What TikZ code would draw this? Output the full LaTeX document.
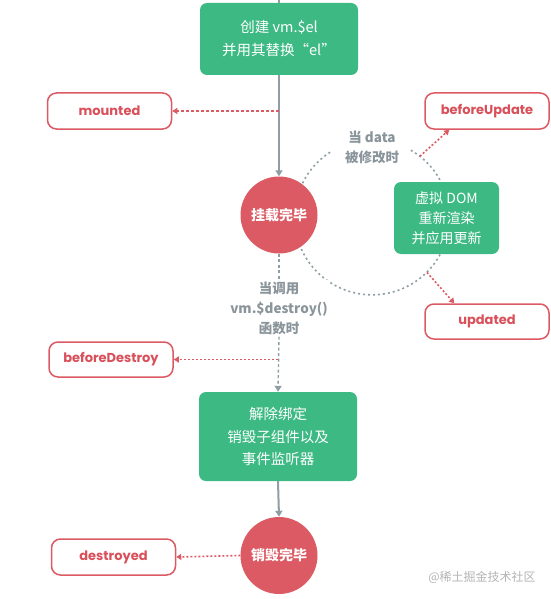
\documentclass[tikz,border=0pt]{standalone}
\usepackage{fontspec}
\setmainfont{Noto Sans CJK SC}
\newfontfamily\lblfont{Poppins}
\usetikzlibrary{arrows.meta,calc}
\definecolor{vgreen}{HTML}{3DBA84}
\definecolor{vred}{HTML}{DC5A64}
\definecolor{vredtxt}{HTML}{D9505A}
\definecolor{vgray}{HTML}{8E9EA4}
\definecolor{vtxtgray}{HTML}{8A959B}
\definecolor{wm}{HTML}{B4B4B4}
\tikzset{
  greenbox/.style={draw=none, fill=vgreen, rounded corners=7pt, text=white,
    align=center, font=\fontsize{14.5}{23}\selectfont, inner sep=0pt},
  hookbox/.style={draw=vred, line width=1.5pt, fill=white, rounded corners=9pt,
    text=vredtxt, font=\lblfont\bfseries\fontsize{13}{15}\selectfont,
    minimum width=124pt, minimum height=36pt, inner sep=0pt},
  donecircle/.style={circle, fill=vred, text=white, minimum size=77pt, inner sep=0pt,
    font=\bfseries\fontsize{14}{16}\selectfont},
  graytext/.style={text=vtxtgray, fill=white, align=center, inner sep=2pt,
    font=\bfseries\fontsize{13.5}{20}\selectfont},
  solidarrow/.style={draw=vgray, line width=2pt, -{Triangle[length=6pt,width=7pt]}},
  grayline/.style={draw=vgray, line width=1.4pt, dash pattern=on 3pt off 2.5pt},
  grayarrow/.style={grayline, -{Triangle[length=6pt,width=7pt]}},
  hookarrow/.style={draw=vred, line width=1.6pt, dash pattern=on 2pt off 2pt, -{Triangle[length=5pt,width=6pt]}},
  hookarrowthin/.style={draw=vred, line width=1.2pt, dash pattern=on 3pt off 2pt, -{Triangle[length=5pt,width=6pt]}},
  loopline/.style={draw=vgray, line width=1.6pt, dash pattern=on 2pt off 3pt},
}
\begin{document}
\begin{tikzpicture}[x=1pt,y=-1pt]
\useasboundingbox (0,0) rectangle (550,599);
% loop circle (behind)
\node[circle, minimum size=155pt, inner sep=0pt] (loop) at (372,217.5) {};
\draw[loopline] (loop.60) arc[start angle=-60, end angle=238, radius=77.5];

\coordinate (topin) at (279,0);
\node[greenbox, minimum width=158pt, minimum height=72pt] (create) at (279,39) {创建 vm.\$el\\并用其替换“el”};
\node[hookbox] (mounted) at (109.5,111) {mounted};
\node[hookbox] (bu) at (487,111) {beforeUpdate};
\node[donecircle] (mdone) at (279,215) {挂载完毕};
\node[graytext] (datachg) at (372,147) {当 data\\被修改时};
\node[greenbox, minimum width=105pt, minimum height=72pt, font=\fontsize{14}{20}\selectfont] (vdom) at (446.5,218) {虚拟 DOM\\重新渲染\\并应用更新};
\node[hookbox, minimum height=35pt] (updated) at (487,321.5) {updated};
\node[graytext] (callds) at (279,308) {当调用\\vm.\$destroy()\\函数时};
\node[hookbox, minimum height=35pt] (bd) at (111,359.5) {beforeDestroy};
\node[greenbox, minimum width=158pt, minimum height=89pt, font=\fontsize{14.5}{22.5}\selectfont] (teardown) at (278,436.5) {解除绑定\\销毁子组件以及\\事件监听器};
\node[donecircle] (ddone) at (279,555.5) {销毁完毕};
\node[hookbox] (destroyed) at (113.5,557) {destroyed};
\node[text=wm, font=\fontsize{12}{14}\selectfont, inner sep=0pt] (wmark) at (482,577) {@稀土掘金技术社区};

% connectors
\draw[draw=vgray, line width=2pt] (topin) -- (create.north);
\draw[solidarrow] (create.south) -- (mdone.north);
\draw[hookarrowthin] (create.south |- mounted.east) -- (mounted.east);
\draw[hookarrow] (loop.52) -- ($(bu.south west)+(25,0)$);
\draw[hookarrow] (loop.-45) -- ($(updated.north west)+(30,0)$);
\draw[grayline] (mdone.south) -- (callds.north);
\draw[grayarrow] (callds.south) -- (teardown.north);
\draw[hookarrow] (teardown.north |- bd.east) -- (bd.east);
\draw[solidarrow] (teardown.south) -- (ddone.north);
\draw[hookarrow] (ddone.west) -- (destroyed.east);
\end{tikzpicture}
\end{document}
